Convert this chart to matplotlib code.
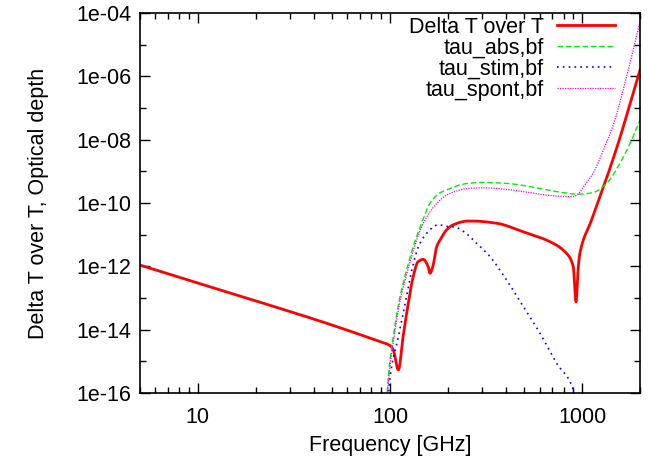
import numpy as np
import matplotlib
matplotlib.use('Agg')
import matplotlib.pyplot as plt
from matplotlib.ticker import LogLocator, FixedLocator, NullFormatter

# Delta T over T (log10 values)
f_dt = [5, 10, 20, 48, 88.7, 100, 104, 110.6, 117, 124.5, 132, 140, 149, 158, 161.5, 167,
        175, 182, 197, 213, 255, 271, 359, 494, 679, 829, 899, 929, 955, 973,
        1119, 1236, 1367, 1541, 1738, 2000]
dt_log = [-11.96, -12.53, -13.09, -13.82, -14.38, -14.50, -14.64, -15.27, -14.22, -13.17, -12.33,
          -11.85, -11.78, -12.01, -12.22, -12.01, -11.38, -11.17, -10.85, -10.69, -10.57,
          -10.57, -10.64, -10.91, -11.22, -11.59, -12.01, -13.12, -12.01, -11.59,
          -10.54, -9.80, -9.06, -8.11, -7.06, -5.80]

# tau_abs,bf
f_abs = [96.0, 96.9, 104, 112.7, 122, 132, 146, 161.5, 182, 197, 231, 255, 305, 404,
         556, 736, 935, 973, 1141, 1340, 1572, 1808, 2000]
abs_log = [-16.5, -15.9, -14.22, -12.96, -12.11, -11.38, -10.64, -10.01, -9.68, -9.59,
           -9.43, -9.38, -9.35, -9.38, -9.50, -9.64, -9.72, -9.72, -9.67, -9.38,
           -8.75, -8.01, -7.38]

# tau_stim,bf
f_stim = [97.5, 98.5, 110.6, 120, 130, 140.6, 155, 178, 205, 213, 255, 271, 331, 404,
          494, 603, 736, 899, 920]
stim_log = [-16.5, -15.9, -14.22, -13.17, -12.11, -11.38, -10.96, -10.69, -10.75, -10.75,
            -11.01, -11.17, -11.69, -12.43, -13.27, -14.11, -15.06, -15.9, -16.3]

# tau_spont,bf
f_spont = [96.5, 97.5, 105, 114, 124, 134, 149, 170, 197, 231, 255, 305, 404, 556,
           650, 736, 900, 960, 1000, 1141, 1290, 1480, 1650, 1808, 2000]
spont_log = [-16.5, -15.9, -14.22, -12.96, -12.11, -11.38, -10.64, -10.1, -9.75, -9.59,
             -9.54, -9.52, -9.57, -9.69, -9.75, -9.78, -9.80, -9.70, -9.54, -9.06,
             -8.33, -7.38, -6.33, -5.38, -4.27]

legend_labels = ['Delta T over T', 'tau_abs,bf', 'tau_stim,bf', 'tau_spont,bf']
y_ticks = [1e-16, 1e-14, 1e-12, 1e-10, 1e-08, 1e-06, 1e-04]


def pchip(x, y, xs):
    # monotone cubic (Fritsch-Carlson) so the read points get joined smoothly
    x = np.asarray(x, float)
    y = np.asarray(y, float)
    h = np.diff(x)
    d = np.diff(y) / h
    m = np.zeros_like(y)
    m[0], m[-1] = d[0], d[-1]
    for i in range(1, len(y) - 1):
        if d[i - 1] * d[i] > 0:
            w1 = 2 * h[i] + h[i - 1]
            w2 = h[i] + 2 * h[i - 1]
            m[i] = (w1 + w2) / (w1 / d[i - 1] + w2 / d[i])
    idx = np.clip(np.searchsorted(x, xs) - 1, 0, len(h) - 1)
    t = (xs - x[idx]) / h[idx]
    h00 = 2 * t**3 - 3 * t**2 + 1
    h10 = t**3 - 2 * t**2 + t
    h01 = -2 * t**3 + 3 * t**2
    h11 = t**3 - t**2
    return h00 * y[idx] + h10 * h[idx] * m[idx] + h01 * y[idx + 1] + h11 * h[idx] * m[idx + 1]


def curve(f, ylog):
    lf = np.log10(f)
    xs = np.union1d(np.linspace(lf[0], lf[-1], 1500), lf)
    return 10 ** xs, 10 ** pchip(lf, ylog, xs)


plt.rcParams['font.family'] = ['Liberation Sans', 'DejaVu Sans']
plt.rcParams['font.size'] = 15.5

fig = plt.figure(figsize=(6.5, 4.62), dpi=100)
ax = fig.add_axes([140 / 650, 1 - 393 / 462, 500 / 650, 380 / 462])

x, y = curve(f_dt, dt_log)
ax.plot(x, y, color='#ff0000', linewidth=2.0, label=legend_labels[0])
x, y = curve(f_abs, abs_log)
ax.plot(x, y, color='#00ee00', linewidth=1.0, linestyle=(0, (4, 2)), label=legend_labels[1])
x, y = curve(f_stim, stim_log)
ax.plot(x, y, color='#0000ff', linewidth=1.2, linestyle=(0, (1, 2.5)), label=legend_labels[2])
x, y = curve(f_spont, spont_log)
ax.plot(x, y, color='#ee00ee', linewidth=0.9, linestyle=(0, (1, 1)), label=legend_labels[3])

ax.set_xscale('log')
ax.set_yscale('log')
ax.set_xlim(5, 2000)
ax.set_ylim(1e-16, 1e-4)

ax.xaxis.set_major_locator(FixedLocator([10, 100, 1000]))
ax.set_xticklabels(['10', '100', '1000'])
ax.xaxis.set_minor_locator(LogLocator(base=10, subs=np.arange(2, 10)))
ax.xaxis.set_minor_formatter(NullFormatter())
ax.yaxis.set_major_locator(FixedLocator(y_ticks))
ax.set_yticklabels(['%.0e' % v for v in y_ticks])
ax.yaxis.set_minor_locator(FixedLocator([10.0 ** e for e in range(-15, -4, 2)]))
ax.yaxis.set_minor_formatter(NullFormatter())

ax.tick_params(which='both', direction='in', top=True, right=True, width=1.0)
ax.tick_params(which='major', length=7)
ax.tick_params(which='minor', length=4)
ax.tick_params(axis='y', which='major', pad=6)
ax.tick_params(axis='x', which='major', pad=10)
for s in ax.spines.values():
    s.set_linewidth(1.2)

ax.set_xlabel('Frequency [GHz]', labelpad=5)
ax.set_ylabel('Delta T over T, Optical depth', labelpad=20)

leg = ax.legend(loc='upper right', bbox_to_anchor=(615 / 650, 1 - 17 / 462),
                bbox_transform=fig.transFigure, frameon=False, markerfirst=False,
                handlelength=2.7, labelspacing=0.0, borderaxespad=0, borderpad=0,
                handletextpad=0.6)

fig.savefig('out.png', dpi=100, facecolor='white')
